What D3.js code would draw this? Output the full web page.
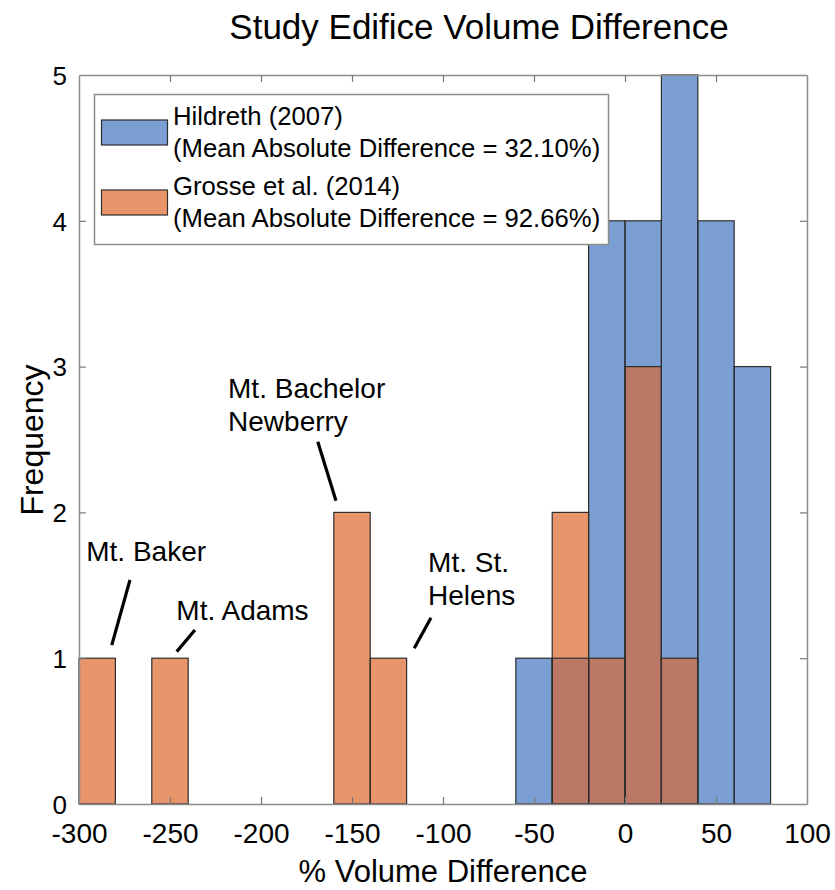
<!DOCTYPE html>
<html>
<head>
<meta charset="utf-8">
<script src="https://cdn.jsdelivr.net/npm/d3@7/dist/d3.min.js"></script>
<style>
  html, body { margin: 0; padding: 0; background: #fff; }
  svg text { font-family: "Liberation Sans", Arial, Helvetica, sans-serif; fill: #000; }
</style>
</head>
<body>
<svg id="chart" width="835" height="890"></svg>
<script>
// Histogram bins (lower edge of each 20 % bin) and their counts
const binWidth = 20;
const hildrethBins = [-60, -40, -20, 0, 20, 40, 60];
const hildrethCounts = [1, 1, 4, 4, 5, 4, 3];
const grosseBins = [-300, -260, -160, -140, -40, -20, 0, 20];
const grosseCounts = [1, 1, 2, 1, 2, 1, 3, 1];

const xTicks = [-300, -250, -200, -150, -100, -50, 0, 50, 100];
const yTicks = [0, 1, 2, 3, 4, 5];

const titleText = "Study Edifice Volume Difference";
const xLabel = "% Volume Difference";
const yLabel = "Frequency";
const legendLines = [
  ["Hildreth (2007)", "(Mean Absolute Difference = 32.10%)"],
  ["Grosse et al. (2014)", "(Mean Absolute Difference = 92.66%)"]
];

// Volcano call-outs: label lines, label anchor and leader line, in data units
const callouts = [
  { lines: ["Mt. Baker"], at: [-296, 1.664], from: [-272, 1.536], to: [-282, 1.09] },
  { lines: ["Mt. Adams"], at: [-246.5, 1.262], from: [-236.3, 1.193], to: [-246.3, 1.045] },
  { lines: ["Mt. Bachelor", "Newberry"], at: [-218.1, 2.785], from: [-168.8, 2.485], to: [-158.8, 2.08] },
  { lines: ["Mt. St.", "Helens"], at: [-108.2, 1.593], from: [-106.6, 1.278], to: [-115.8, 1.068] }
];

const colBlue = "#7b9fd3";
const colOrange = "#e8956b";
const colBoth = "#bb7866";
const edge = "#2e2e2e";
const axisCol = "#8c8c8c";

const svg = d3.select("#chart");
const plot = { left: 79, right: 807, top: 75, bottom: 804 };

const x = d3.scaleLinear().domain([-300, 100]).range([plot.left, plot.right]);
const y = d3.scaleLinear().domain([0, 5]).range([plot.bottom, plot.top]);

const hildreth = hildrethBins.map((b, i) => ({ x0: b, n: hildrethCounts[i] }));
const grosse = grosseBins.map((b, i) => ({ x0: b, n: grosseCounts[i] }));
// shared part of bins present in both histograms
const both = grosse
  .filter(g => hildrethBins.includes(g.x0))
  .map(g => ({ x0: g.x0, n: Math.min(g.n, hildrethCounts[hildrethBins.indexOf(g.x0)]) }));

const g = svg.append("g");

function bars(data, fill, stroke, cls) {
  g.append("g").attr("class", cls)
    .selectAll("rect").data(data).join("rect")
    .attr("x", d => x(d.x0))
    .attr("y", d => y(d.n))
    .attr("width", d => x(d.x0 + binWidth) - x(d.x0))
    .attr("height", d => y(0) - y(d.n))
    .attr("fill", fill)
    .attr("stroke", stroke)
    .attr("stroke-width", 1.2);
}
bars(hildreth, colBlue, "none", "fill-h");
bars(grosse, colOrange, "none", "fill-g");
bars(both, colBoth, "none", "fill-both");
bars(hildreth, "none", edge, "edge-h");
bars(grosse, "none", edge, "edge-g");

// Axes box with inward ticks on all four sides
const tickLen = 7;
const hyphenFmt = d => String(d); // plain hyphen-minus, as on the printed axis
const axes = svg.append("g");
const bottomAxis = d3.axisBottom(x).tickValues(xTicks).tickSizeInner(-tickLen).tickSizeOuter(0).tickPadding(19).tickFormat(hyphenFmt);
const topAxis = d3.axisTop(x).tickValues(xTicks).tickSizeInner(-tickLen).tickSizeOuter(0).tickFormat("");
const leftAxis = d3.axisLeft(y).tickValues(yTicks).tickSizeInner(-tickLen).tickSizeOuter(0).tickPadding(12).tickFormat(hyphenFmt);
const rightAxis = d3.axisRight(y).tickValues(yTicks).tickSizeInner(-tickLen).tickSizeOuter(0).tickFormat("");

const gb = axes.append("g").attr("transform", `translate(0,${plot.bottom})`).call(bottomAxis);
const gt = axes.append("g").attr("transform", `translate(0,${plot.top})`).call(topAxis);
const gl = axes.append("g").attr("transform", `translate(${plot.left},0)`).call(leftAxis);
const gr = axes.append("g").attr("transform", `translate(${plot.right},0)`).call(rightAxis);
[gb, gt, gl, gr].forEach(a => {
  a.select(".domain").attr("stroke", axisCol).attr("stroke-width", 1.5);
  a.selectAll(".tick line").attr("stroke", "#777").attr("stroke-width", 1.2);
  a.selectAll(".tick text").attr("fill", "#000")
    .attr("font-family", "'Liberation Sans', Arial, sans-serif");
});
gb.selectAll(".tick text").attr("font-size", 28).attr("dy", "0.71em");
gl.selectAll(".tick text").attr("font-size", 26).attr("dy", "0.36em");
// hide ticks that coincide with the box corners
gb.selectAll(".tick line").filter(d => d === -300 || d === 100).remove();
gt.selectAll(".tick line").filter(d => d === -300 || d === 100).remove();
gl.selectAll(".tick line").filter(d => d === 0 || d === 5).remove();
gr.selectAll(".tick line").filter(d => d === 0 || d === 5).remove();

// Call-outs
const notes = svg.append("g");
callouts.forEach(c => {
  notes.append("line")
    .attr("x1", x(c.from[0])).attr("y1", y(c.from[1]))
    .attr("x2", x(c.to[0])).attr("y2", y(c.to[1]))
    .attr("stroke", "#000").attr("stroke-width", 3.2);
  const t = notes.append("text")
    .attr("x", x(c.at[0])).attr("y", y(c.at[1]))
    .attr("font-size", 28);
  c.lines.forEach((l, i) => {
    t.append("tspan").attr("x", x(c.at[0])).attr("dy", i === 0 ? 0 : 33.5).text(l);
  });
});

// Titles
svg.append("text").attr("x", 479).attr("y", 39).attr("text-anchor", "middle")
  .attr("font-size", 35).text(titleText);
svg.append("text").attr("x", 443).attr("y", 882).attr("text-anchor", "middle")
  .attr("font-size", 31).text(xLabel);
svg.append("text").attr("transform", "translate(43,440) rotate(-90)")
  .attr("text-anchor", "middle").attr("font-size", 32).text(yLabel);

// Legend
const leg = svg.append("g");
leg.append("rect").attr("x", 94.5).attr("y", 94.5).attr("width", 514).attr("height", 150)
  .attr("fill", "#fff").attr("stroke", axisCol).attr("stroke-width", 1.5);
const swatches = [colBlue, colOrange];
const rowTop = [120, 190];
swatches.forEach((c, i) => {
  leg.append("rect").attr("x", 101.5).attr("y", rowTop[i]).attr("width", 66).attr("height", 25)
    .attr("fill", c).attr("stroke", edge).attr("stroke-width", 1.2);
  const t = leg.append("text").attr("x", 173).attr("y", rowTop[i] + 5).attr("font-size", 25.7);
  legendLines[i].forEach((l, j) => {
    t.append("tspan").attr("x", 173).attr("dy", j === 0 ? 0 : 31.5).text(l);
  });
});
</script>
</body>
</html>
